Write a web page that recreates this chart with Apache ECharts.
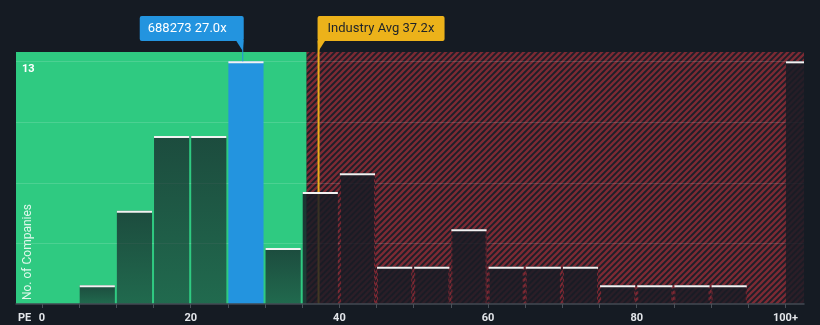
<!DOCTYPE html>
<html><head><meta charset="utf-8">
<script src="https://cdn.jsdelivr.net/npm/echarts@6/dist/echarts.min.js"></script>
<style>html,body{margin:0;padding:0;background:#151b23;}#c{width:820px;height:325px;}</style>
</head><body><div id="c"></div>
<script>
// ---- data ----
const binStarts = [0,5,10,15,20,25,30,35,40,45,50,55,60,65,70,75,80,85,90,95,100];
const counts    = [0,1,5,9,9,13,3,6,7,2,2,4,2,2,2,1,1,1,1,0,13];
const binWidth = 5;
const highlightBin = 5;
const companyPE = 27.0;
const companyLabel = '688273 27.0x';
const industryPE = 37.2;
const industryLabel = 'Industry Avg 37.2x';
const fairLimit = 35.6;
const xTicks = [0,5,10,15,20,25,30,35,40,45,50,55,60,65,70,75,80,85,90,95,100];
const xLabels = [0,20,40,60,80,100];
const yGrid = [3.25,6.5,9.75,13];
const yLabelVal = 13;
const xMin = -3.5, xMax = 102.5, yMax = 13.5;

// ---- styling helpers ----
function stripeCanvas(){
  const s=6, c=document.createElement('canvas'); c.width=c.height=s;
  const g=c.getContext('2d');
  g.fillStyle='#1d1f28'; g.fillRect(0,0,s,s);
  g.strokeStyle='#7c2a34'; g.lineWidth=2.3;
  g.beginPath();
  g.moveTo(0,s); g.lineTo(s,0);
  g.moveTo(-s/2,s/2); g.lineTo(s/2,-s/2);
  g.moveTo(s/2,s*1.5); g.lineTo(s*1.5,s/2);
  g.stroke();
  return c;
}
const stripe = stripeCanvas();

const bgData = [[xMin, fairLimit, 0],[fairLimit, xMax, 1]];
const barData = binStarts.map((s,i)=>[s, i===binStarts.length-1 ? xMax : s+binWidth, counts[i], i]);
const markerData = [[companyPE, 0],[industryPE, 1]];

const chart = echarts.init(document.getElementById('c'), null, {renderer:'canvas'});
chart.setOption({
  backgroundColor:'#151b23',
  animation:false,
  grid:{left:16,right:16,top:52,bottom:21},
  xAxis:{type:'value',min:xMin,max:xMax,z:10,
    axisLine:{show:true,lineStyle:{color:'#434a53',width:1.5}},
    axisTick:{show:true,customValues:xTicks,length:4,lineStyle:{color:'#4a5159'}},
    axisLabel:{customValues:xLabels,margin:9,color:'#e3e6ea',fontSize:11,fontWeight:'bold',fontFamily:'Roboto',
      formatter:v=> v===100?'100+':String(v)},
    splitLine:{show:false}},
  yAxis:{type:'value',min:0,max:yMax,show:false},
  graphic:[
    {type:'text',z:100,left:18,top:313,style:{text:'PE',fill:'#e3e6ea',font:'bold 11px Roboto'}},
    {type:'text',z:100,x:28,y:252,rotation:Math.PI/2,style:{text:'No. of Companies',fill:'rgba(255,255,255,0.85)',font:'12px Roboto',align:'center',verticalAlign:'middle'}}
  ],
  series:[
    {type:'custom',z:1,data:bgData,renderItem:(p,api)=>{
      const a=api.coord([api.value(0),yMax]), b=api.coord([api.value(1),0]);
      return {type:'rect',shape:{x:a[0],y:a[1],width:b[0]-a[0],height:b[1]-a[1]},
        style:{fill: api.value(2)===0 ? '#2fca81' : {image:stripe,repeat:'repeat'}}};
    }},
    {type:'custom',z:2,data:yGrid.map(v=>[v]),renderItem:(p,api)=>{
      const a=api.coord([xMin,api.value(0)]), b=api.coord([xMax,api.value(0)]);
      const ch=[{type:'line',shape:{x1:a[0],y1:Math.round(a[1])+0.5,x2:b[0],y2:Math.round(a[1])+0.5},style:{stroke:'rgba(255,255,255,0.14)',lineWidth:1}}];
      if(api.value(0)===yLabelVal){
        ch.push({type:'text',x:a[0]+6,y:a[1]+8,style:{text:String(yLabelVal),fill:'#ffffff',font:'bold 11px Roboto',verticalAlign:'middle'}});
      }
      return {type:'group',children:ch};
    }},
    {type:'custom',z:3,data:[[industryPE]],renderItem:(p,api)=>{
      const a=api.coord([api.value(0),yMax]), b=api.coord([api.value(0),0]);
      return {type:'line',shape:{x1:a[0],y1:41,x2:a[0],y2:b[1]},style:{stroke:'#e9ad1c',lineWidth:2}};
    }},
    {type:'custom',z:4,data:barData,renderItem:(p,api)=>{
      const cnt=api.value(2); if(!cnt) return null;
      const i=api.value(3);
      const a=api.coord([api.value(0),0]), b=api.coord([api.value(1),cnt]);
      const last = i===binStarts.length-1;
      const left=a[0]+0.5, right= last? b[0] : b[0]-1.5, top=b[1], bottom=a[1];
      const red = api.value(0) >= fairLimit-1;
      let fill;
      if(i===highlightBin) fill='#2394df';
      else fill=new echarts.graphic.LinearGradient(0,0,0,1,[
        {offset:0,color: red?'rgba(24,27,36,0.86)':'rgba(21,27,36,0.72)'},
        {offset:1,color: red?'rgba(24,27,36,0.8)':'rgba(21,27,36,0.55)'}]);
      const ch=[{type:'rect',shape:{x:left,y:top,width:right-left,height:bottom-top},style:{fill}}];
      if(red && api.value(0)>fairLimit && !last){
        ch.push({type:'line',shape:{x1:left+0.5,y1:top,x2:left+0.5,y2:bottom},style:{stroke:'rgba(150,40,52,0.8)',lineWidth:1,lineDash:[3,3]}});
        ch.push({type:'line',shape:{x1:right-0.5,y1:top,x2:right-0.5,y2:bottom},style:{stroke:'rgba(150,40,52,0.8)',lineWidth:1,lineDash:[3,3]}});
      }
      ch.push({type:'rect',shape:{x:left,y:top,width:right-left,height:2},style:{fill:'#f2f2f2'}});
      return {type:'group',children:ch};
    }},
    {type:'custom',z:6,data:markerData,renderItem:(p,api)=>{
      const v=api.value(0), kind=api.value(1);
      const c=api.coord([v,yMax]);
      const x=c[0];
      if(kind===0){
        const topBar=api.coord([v,counts[highlightBin]])[1];
        const w=104, R=x+1, L=R-w;
        return {type:'group',children:[
          {type:'line',shape:{x1:x,y1:41,x2:x,y2:topBar},style:{stroke:'#2394df',lineWidth:1}},
          {type:'rect',shape:{x:L,y:16,width:w,height:25,r:2},style:{fill:'#2394df'}},
          {type:'polygon',shape:{points:[[R-8,40],[R,40],[x,51]]},style:{fill:'#2394df'}},
          {type:'text',x:L+8,y:28.5,style:{text:companyLabel,fill:'#ffffff',font:'13px Roboto',verticalAlign:'middle'}}
        ]};
      } else {
        const w=127, L=x-1;
        return {type:'group',children:[
          {type:'rect',shape:{x:L,y:16,width:w,height:25,r:2},style:{fill:'#ecb21a'}},
          {type:'polygon',shape:{points:[[L,40],[L+8,40],[x,51]]},style:{fill:'#ecb21a'}},
          {type:'text',x:L+10,y:28.5,style:{text:industryLabel,fill:'#1e232a',font:'13px Roboto',verticalAlign:'middle'}}
        ]};
      }
    }}
  ]
});
</script></body></html>
